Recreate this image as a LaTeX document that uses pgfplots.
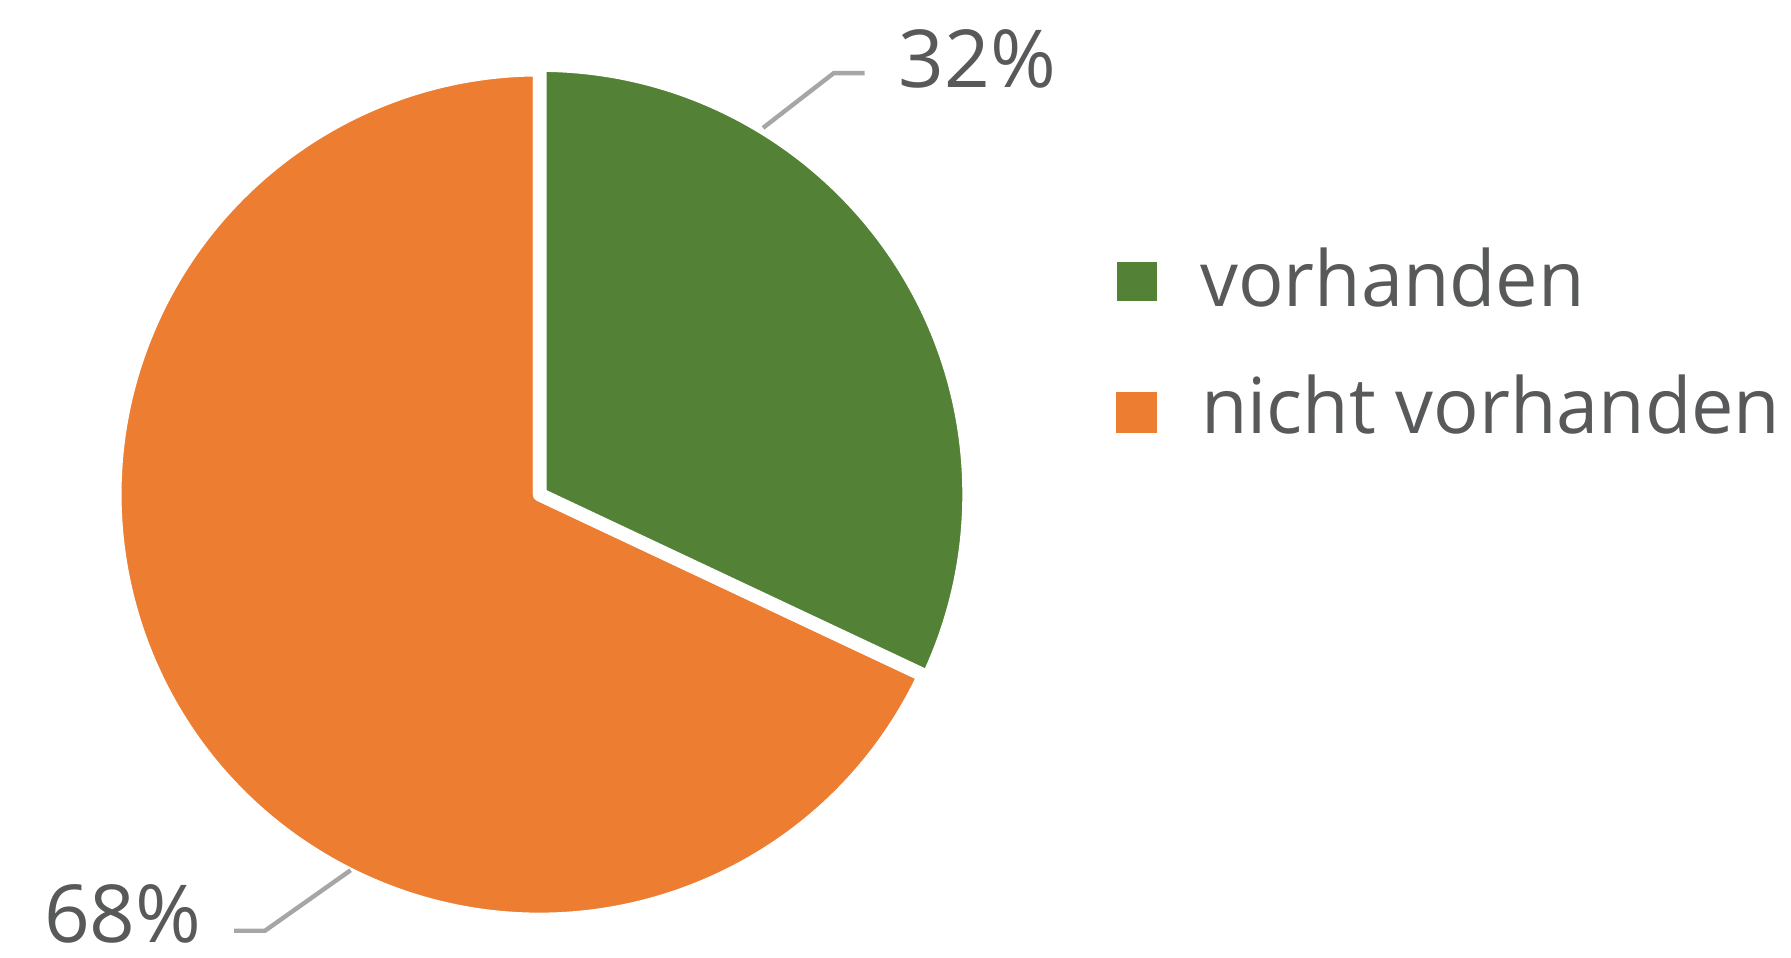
\documentclass[border=0pt]{standalone}
\usepackage{pgfplots}
\usepackage{pgfplotstable}
\pgfplotsset{compat=1.18}
\usepackage{fontspec}
\setmainfont{Open Sans}
\definecolor{cgreen}{HTML}{538135}
\definecolor{corange}{HTML}{ED7D31}
\definecolor{ctext}{HTML}{58595B}
\definecolor{clead}{HTML}{A6A6A6}
\pgfplotstableread{
label value
vorhanden 32
nicht 68
}\piedata
\begin{document}
\begin{tikzpicture}
\pgfplotstablegetelem{0}{value}\of\piedata \pgfmathsetmacro{\va}{\pgfplotsretval}
\pgfplotstablegetelem{1}{value}\of\piedata \pgfmathsetmacro{\vb}{\pgfplotsretval}
\pgfmathsetmacro{\u}{447.75/1568}
\pgfmathsetmacro{\R}{372*\u}
\pgfmathsetmacro{\Rg}{376*\u}
\pgfmathsetmacro{\LW}{12*\u}
\pgfmathsetmacro{\aend}{90-3.6*\va}
\pgfmathsetmacro{\bend}{\aend-3.6*\vb}
\begin{axis}[
  at={(0,0)}, anchor=south west,
  scale only axis, width=447.75pt, height=239.25pt,
  xmin=0, xmax=1568, ymin=0, ymax=838,
  hide axis, clip=false,
]
\filldraw[fill=corange, draw=white, line width=\LW pt, line join=round]
  (axis cs:472.5,405) -- ++(\aend:\R pt) arc[start angle=\aend, end angle=\bend, radius=\R pt] -- cycle;
\filldraw[fill=cgreen, draw=white, line width=\LW pt, line join=round]
  (axis cs:472.5,405) -- ++(90:\Rg pt) arc[start angle=90, end angle=\aend, radius=\Rg pt] -- cycle;
\draw[clead, line width=1.1pt] (axis cs:668,726) -- (axis cs:730,774) -- (axis cs:757,774);
\draw[clead, line width=1.1pt] (axis cs:307,76) -- (axis cs:232,23) -- (axis cs:205,23);
\node[anchor=base west, inner sep=0pt, text=ctext, font=\fontsize{20}{24}\selectfont] at (axis cs:786,761) {32\%};
\node[anchor=base west, inner sep=0pt, text=ctext, font=\fontsize{20}{24}\selectfont] at (axis cs:38,13) {68\%};
\fill[cgreen] (axis cs:978,574) rectangle (axis cs:1013,609);
\fill[corange] (axis cs:977,459) rectangle (axis cs:1013,495);
\node[anchor=base west, inner sep=0pt, xscale=0.98, text=ctext, font=\fontsize{19.3}{23}\selectfont] at (axis cs:1050,570) {vorhanden};
\node[anchor=base west, inner sep=0pt, xscale=0.98, text=ctext, font=\fontsize{19.3}{23}\selectfont] at (axis cs:1051,458) {nicht vorhanden};
\end{axis}
\pgfresetboundingbox
\useasboundingbox (0,0) rectangle (447.75pt,239.25pt);
\end{tikzpicture}
\end{document}
